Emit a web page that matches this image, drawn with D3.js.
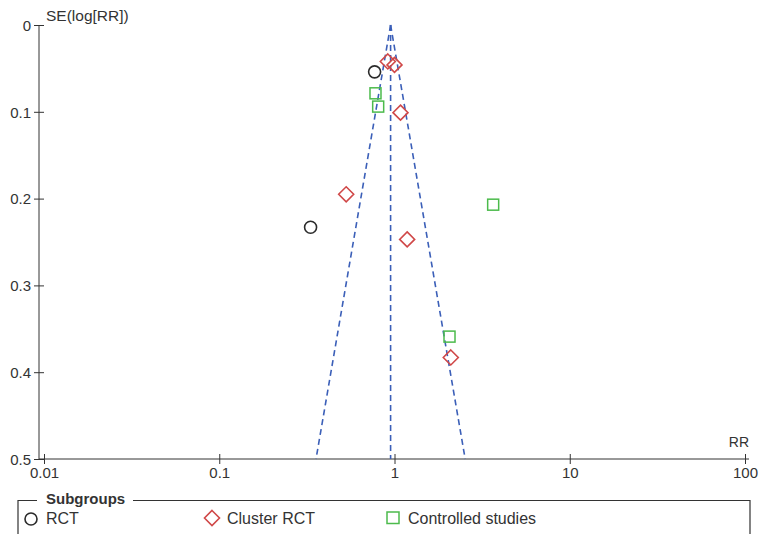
<!DOCTYPE html>
<html><head><meta charset="utf-8">
<script src="https://cdn.jsdelivr.net/npm/d3@7"></script>
<style>
body{margin:0;background:#fff;}
text{font-family:"Liberation Sans",Arial,sans-serif;fill:#333;}
</style></head>
<body>
<svg id="c" width="759" height="534"></svg>
<script>
// ---- data ----
const rctRR = [0.77, 0.332];
const rctSE = [0.054, 0.233];
const clusterRR = [0.916, 1.0, 1.082, 0.530, 1.181, 2.095];
const clusterSE = [0.042, 0.046, 0.101, 0.195, 0.247, 0.383];
const ctrlRR = [0.779, 0.807, 3.656, 2.06];
const ctrlSE = [0.0787, 0.094, 0.207, 0.359];
const xTicks = [0.01, 0.1, 1, 10, 100];
const xTickLabels = ["0.01", "0.1", "1", "10", "100"];
const yTicks = [0, 0.1, 0.2, 0.3, 0.4, 0.5];
const yTickLabels = ["0", "0.1", "0.2", "0.3", "0.4", "0.5"];
const pooledRR = 0.95;
const seMax = 0.5;
const legendLabels = ["RCT", "Cluster RCT", "Controlled studies"];

const svg = d3.select("#c");
const x = d3.scaleLog().domain([0.01, 100]).range([44, 745]);
const y = d3.scaleLinear().domain([0, 0.5]).range([25, 459]);
const axisColor = "#333";
const FF = "Liberation Sans, Arial, sans-serif";

// y axis
const yAxis = svg.append("g").attr("transform", "translate(39,0)")
  .call(d3.axisLeft(y).tickValues(yTicks).tickFormat((d,i)=>yTickLabels[i]).tickSizeOuter(0).tickSizeInner(5).tickPadding(3));
yAxis.select(".domain").attr("stroke", axisColor).attr("d", `M0,${y(0)}V${y(0.5)}`);
yAxis.selectAll(".tick line").attr("x1", -5).attr("x2", 5).attr("stroke", axisColor);
yAxis.selectAll(".tick text").attr("font-size", 15).attr("font-family", FF).attr("fill", "#333").attr("dy", "0.35em");

// x axis
const xAxis = svg.append("g").attr("transform", `translate(0,${y(0.5)})`)
  .call(d3.axisBottom(x).tickValues(xTicks).tickFormat((d,i)=>xTickLabels[i]).tickSizeOuter(0).tickSizeInner(5).tickPadding(3));
xAxis.select(".domain").attr("stroke", axisColor).attr("d", `M39,0H${x(100)+4}`);
xAxis.selectAll(".tick line").attr("y1", -5).attr("y2", 5).attr("stroke", axisColor);
xAxis.selectAll(".tick text").attr("font-size", 15).attr("font-family", FF).attr("fill", "#333").attr("dy", "0.75em");

// axis titles
svg.append("text").attr("x", 46).attr("y", 21).attr("font-size", 15.5).text("SE(log[RR])");
svg.append("text").attr("x", 749).attr("y", 447).attr("text-anchor", "end").attr("font-size", 14).text("RR");

// funnel
const fz = 1.96;
const funnel = svg.append("g").attr("fill", "none").attr("stroke", "#3b5fb8").attr("stroke-width", 1.6).attr("stroke-dasharray", "6,4");
const lo = pooledRR * Math.exp(-fz * seMax), hi = pooledRR * Math.exp(fz * seMax);
funnel.append("line").attr("x1", x(pooledRR)).attr("y1", y(0)).attr("x2", x(pooledRR)).attr("y2", y(seMax));
funnel.append("line").attr("x1", x(pooledRR)).attr("y1", y(0)).attr("x2", x(lo)).attr("y2", y(seMax));
funnel.append("line").attr("x1", x(pooledRR)).attr("y1", y(0)).attr("x2", x(hi)).attr("y2", y(seMax));

// points
const pts = svg.append("g");
rctRR.forEach((r,i)=>{
  pts.append("circle").attr("cx", x(r)).attr("cy", y(rctSE[i])).attr("r", 6)
    .attr("fill", "none").attr("stroke", "#2b2b2b").attr("stroke-width", 1.6);
});
const dia = (cx, cy, s) => `M${cx},${cy-s}L${cx+s},${cy}L${cx},${cy+s}L${cx-s},${cy}Z`;
clusterRR.forEach((r,i)=>{
  pts.append("path").attr("d", dia(x(r), y(clusterSE[i]), 7.5))
    .attr("fill", "none").attr("stroke", "#d04848").attr("stroke-width", 1.6);
});
ctrlRR.forEach((r,i)=>{
  pts.append("rect").attr("x", x(r)-5.5).attr("y", y(ctrlSE[i])-5.5).attr("width", 11).attr("height", 11)
    .attr("fill", "none").attr("stroke", "#4cbb4c").attr("stroke-width", 1.5);
});

// legend
const lg = svg.append("g");
lg.append("path").attr("d", "M18,540V500.5H37 M133,500.5H750V540").attr("fill", "none").attr("stroke", "#333").attr("stroke-width", 1.2);
lg.append("text").attr("x", 46).attr("y", 504).attr("font-size", 15).attr("font-weight", "bold").text("Subgroups");
lg.append("circle").attr("cx", 31).attr("cy", 519).attr("r", 6).attr("fill", "none").attr("stroke", "#2b2b2b").attr("stroke-width", 1.6);
lg.append("text").attr("x", 46).attr("y", 524).attr("font-size", 16).text(legendLabels[0]);
lg.append("path").attr("d", dia(212, 518, 7.5)).attr("fill", "none").attr("stroke", "#d04848").attr("stroke-width", 1.6);
lg.append("text").attr("x", 227).attr("y", 524).attr("font-size", 16).text(legendLabels[1]);
lg.append("rect").attr("x", 387).attr("y", 512).attr("width", 12).attr("height", 11.5).attr("fill", "none").attr("stroke", "#4cbb4c").attr("stroke-width", 1.5);
lg.append("text").attr("x", 408).attr("y", 524).attr("font-size", 16).text(legendLabels[2]);
</script>
</body></html>
